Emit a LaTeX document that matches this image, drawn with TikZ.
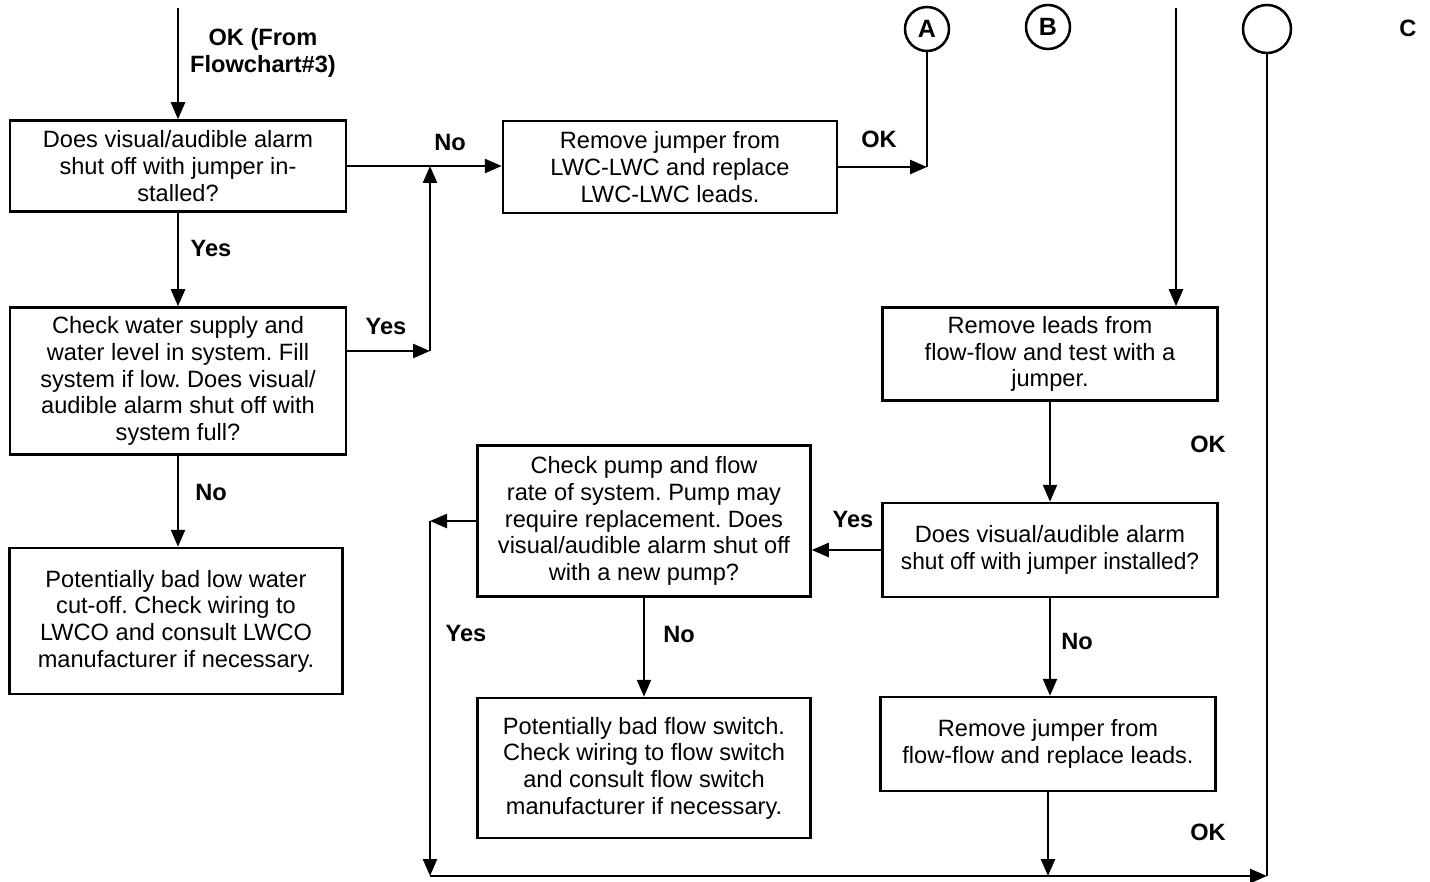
\documentclass[tikz,border=0pt]{standalone}
\usepackage{fontspec}
\setmainfont{Liberation Sans}
\usetikzlibrary{arrows.meta}
\frenchspacing
\begin{document}
\begin{tikzpicture}[x=0.5pt,y=-0.5pt,
  every node/.style={font=\fontsize{11.8pt}{13.3pt}\selectfont},
  box/.style={draw,line width=1.25pt,inner sep=0pt,align=center},
  lbl/.style={font=\fontsize{11.8pt}{13.3pt}\selectfont\bfseries,align=center,inner sep=0pt},
  circ/.style={draw,circle,line width=1.25pt,inner sep=0pt,font=\fontsize{12.5pt}{13.3pt}\selectfont\bfseries},
  arr/.style={line width=1.25pt,-{Triangle[length=8.5pt,width=7pt]}},
  ln/.style={line width=1.25pt}]
\useasboundingbox (0,0) rectangle (1430,882);

\node[box,minimum width=168pt,minimum height=45.5pt] (b1) at (178,166) {Does visual/audible alarm\\shut off with jumper in-\\stalled?};
\node[box,minimum width=168pt,minimum height=73.5pt] (b2) at (178,381) {Check water supply and\\water level in system. Fill\\system if low. Does visual/\\audible alarm shut off with\\system full?};
\node[box,minimum width=166.5pt,minimum height=73pt] (b3) at (176,621) {Potentially bad low water\\cut-off. Check wiring to\\LWCO and consult LWCO\\manufacturer if necessary.};
\node[box,minimum width=167pt,minimum height=46pt] (b4) at (670,167) {Remove jumper from\\LWC-LWC and replace\\LWC-LWC leads.};
\node[box,minimum width=167.5pt,minimum height=46.5pt] (b5) at (1050,354) {Remove leads from\\flow-flow and test with a\\jumper.};
\node[box,minimum width=166.5pt,minimum height=75.5pt] (b6) at (644,521) {Check pump and flow\\rate of system. Pump may\\require replacement. Does\\visual/audible alarm shut off\\with a new pump?};
\node[box,minimum width=167.5pt,minimum height=47pt] (b7) at (1050,550) {Does visual/audible alarm\\\scalebox{0.96}[1]{shut off with jumper installed?}};
\node[box,minimum width=166.5pt,minimum height=70pt] (b8) at (644,768) {Potentially bad flow switch.\\Check wiring to flow switch\\and consult flow switch\\manufacturer if necessary.};
\node[box,minimum width=167.5pt,minimum height=47pt] (b9) at (1048,744) {Remove jumper from\\flow-flow and replace leads.};

\node[circ,minimum size=22pt] (A) at (927,29) {A};
\node[circ,minimum size=22pt] (B) at (1048,27) {B};
\node[circ,minimum size=24pt] (E) at (1267,29) {};
\node[lbl] (C) at (1408,28) {C};

\node[lbl] (tOK) at (263,53) {OK (From\\Flowchart\#3)};
\node[lbl] (tNo1) at (450,143) {No};
\node[lbl] (tOK1) at (879,139) {OK};
\node[lbl] (tYes1) at (211,248) {Yes};
\node[lbl] (tYes2) at (386,326) {Yes};
\node[lbl] (tNo2) at (211,492) {No};
\node[lbl] (tOK2) at (1208,444) {OK};
\node[lbl] (tYes3) at (853,519) {Yes};
\node[lbl] (tYes4) at (466,633) {Yes};
\node[lbl] (tNo3) at (679,634) {No};
\node[lbl] (tNo4) at (1077,641) {No};
\node[lbl] (tOK3) at (1208,832) {OK};

\coordinate (top) at (178,8);
\coordinate (vtop) at (1176,8);
\coordinate (j1) at (430,351);
\coordinate (L1) at (430,521);
\coordinate (L2) at (430,876);
\coordinate (R2) at (1267,876);

\draw[arr] (top) -- (b1.north);
\draw[arr] (b1.east) -- (b1.east -| b4.west);
\draw[arr] (b1) -- (b2);
\draw[arr] (b2.south) -- (b2.south |- b3.north);
\draw[arr] (b2.east |- j1) -- (j1);
\draw[arr] (j1) -- (j1 |- b1.east);
\draw[arr] (b4.east) -- (A |- b4.east);
\draw[ln] (A) -- (A |- b4.east);
\draw[arr] (vtop) -- (vtop |- b5.north);
\draw[arr] (b5) -- (b7);
\draw[arr] (b7.west) -- (b7.west -| b6.east);
\draw[arr] (b6.west) -- (L1);
\draw[arr] (L1) -- (L2);
\draw[arr] (L2) -- (R2);
\draw[ln] (E) -- (R2);
\draw[arr] (b6) -- (b8);
\draw[arr] (b7.south) -- (b7.south |- b9.north);
\draw[arr] (b9.south) -- (b9.south |- L2);
\end{tikzpicture}
\end{document}
